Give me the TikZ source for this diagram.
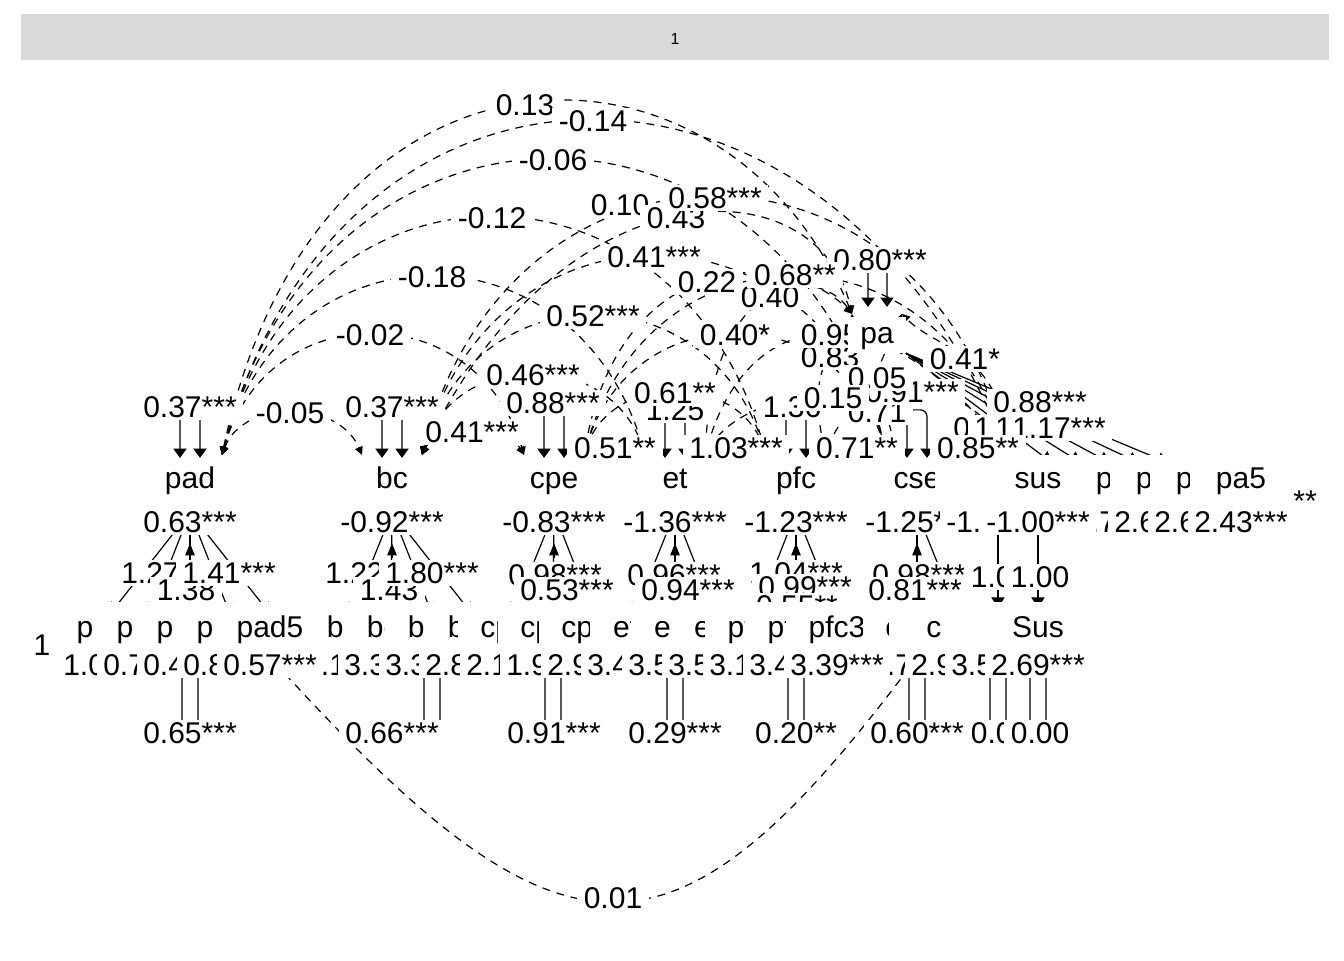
\documentclass[tikz,border=0pt]{standalone}
\usepackage{fontspec}
\setmainfont{Liberation Sans}
\usetikzlibrary{arrows.meta,calc}
\pgfdeclarelayer{edges}
\pgfdeclarelayer{labels}
\pgfsetlayers{edges,labels,main}
\definecolor{stripgray}{RGB}{217,217,217}
\newcommand{\labfont}{\fontsize{22.5}{26}\selectfont}

\begin{document}
\begin{tikzpicture}[x=0.75pt,y=-0.75pt,
    lbl/.style={fill=white,inner xsep=5pt,inner ysep=1.5pt,text height=16.2pt,text depth=0pt,font=\labfont},
    latent/.style={fill=white,inner xsep=9pt,inner ysep=2.5pt,text height=16.9pt,text depth=5pt,anchor=base,font=\labfont},
    indic/.style={latent,inner xsep=19.5pt,text height=22.2pt},
    manifest/.style={fill=white,inner xsep=17pt,inner ysep=2.5pt,text height=23.6pt,text depth=5pt,anchor=base,font=\labfont},
    cov/.style={line width=0.9pt,dash pattern=on 6pt off 5pt,{Triangle[length=6pt,width=6pt]}-{Triangle[length=6pt,width=6pt]}},
    resid/.style={line width=0.9pt,rounded corners=5pt,{Triangle[length=7pt,width=10pt]}-{Triangle[length=7pt,width=10pt]}},
    load/.style={line width=0.9pt,-{Triangle[length=8pt,width=10pt]}},
    mean/.style={line width=0.9pt,-{Triangle[length=9pt,width=7pt]}}]

\useasboundingbox (0,0) rectangle (1344,960);
\fill[stripgray] (21,14) rectangle (1329,60);
\node[font=\fontsize{12}{14}\selectfont] (strip) at (675,39) {1};

% indicators of pa sit in the latent row
\foreach \i/\x in {1/1081,2/1121,3/1161,4/1201,5/1241}
  \node[indic] (pa\i) at (\x,488) {pa\i};

% latents
\node[latent] (pad) at (190,488) {pad};
\node[latent] (bc) at (392,488) {bc};
\node[latent] (cpe) at (554,488) {cpe};
\node[latent] (et) at (675,488) {et};
\node[latent] (pfc) at (796,488) {pfc};
\node[latent] (cse) at (917,488) {cse};
\node[latent,minimum width=94pt] (sus0) at (998,488) {};
\node[latent] (sus) at (1038,488) {sus};
\node[latent] (pa) at (877,343) {pa};

% manifests
\foreach \i/\x in {1/110,2/150,3/190,4/230,5/270}
  \node[manifest] (pad\i) at (\x,637) {pad\i};
\foreach \i/\x in {1/351,2/391,3/432,4/472}
  \node[manifest] (bc\i) at (\x,637) {bc\i};
\foreach \i/\x in {1/513,2/553,3/594}
  \node[manifest] (cpe\i) at (\x,637) {cpe\i};
\foreach \i/\x in {1/634,2/675,3/715}
  \node[manifest] (et\i) at (\x,637) {et\i};
\foreach \i/\x in {1/756,2/796,3/837}
  \node[manifest] (pfc\i) at (\x,637) {pfc\i};
\node[manifest] (cse1) at (917,637) {cse1};
\node[manifest,inner xsep=28pt] (cse2) at (958,637) {cse2};
\node[manifest,minimum width=86pt] (sus2) at (998,637) {};
\node[manifest] (Sus) at (1038,637) {Sus};

\node[font=\labfont] (one) at (42,645) {1};
\node[font=\labfont,anchor=base] (stars) at (1305,511) {**};

\begin{pgfonlayer}{edges}
% covariances between latents
\draw[cov] ($(pad.north)+(32,-7)$) .. controls (243,399) and (338,399) .. ($(bc.north)+(-30,-7)$);
\draw[cov] ($(pad.north)+(32,-7)$) .. controls (267,295) and (476,295) .. ($(cpe.north)+(-30,-7)$);
\draw[cov] ($(pad.north)+(32,-7)$) .. controls (285,218) and (578,218) .. ($(et.north)+(-30,-7)$);
\draw[cov] ($(pad.north)+(32,-7)$) .. controls (304,139) and (681,139) .. ($(pfc.north)+(-30,-7)$);
\draw[cov] ($(pad.north)+(32,-7)$) .. controls (322,62) and (783,62) .. ($(cse.north)+(-30,-7)$);
\draw[cov] ($(pad.north)+(32,-7)$) .. controls (340,10) and (831,10) .. ($(sus.north)+(-30,-7)$);
\draw[cov] ($(pad.north)+(32,-7)$) .. controls (317,11) and (725,11) .. ($(pa.north)+(-25,-3)$);
\draw[cov] ($(bc.north)+(30,-7)$) .. controls (437,424) and (506,424) .. ($(cpe.north)+(-30,-7)$);
\draw[cov] ($(bc.north)+(30,-7)$) .. controls (455,348) and (611,348) .. ($(et.north)+(-30,-7)$);
\draw[cov] ($(bc.north)+(30,-7)$) .. controls (474,270) and (711,270) .. ($(pfc.north)+(-30,-7)$);
\draw[cov] ($(bc.north)+(30,-7)$) .. controls (492,191) and (816,191) .. ($(cse.north)+(-30,-7)$);
\draw[cov] ($(bc.north)+(30,-7)$) .. controls (510,112) and (920,112) .. ($(sus.north)+(-30,-7)$);
\draw[cov] ($(bc.north)+(30,-7)$) .. controls (560,162) and (818,162) .. ($(pa.north)+(-25,-3)$);
\draw[cov] ($(cpe.north)+(30,-7)$) .. controls (593,446) and (635,446) .. ($(et.north)+(-30,-7)$);
\draw[cov] ($(cpe.north)+(30,-7)$) .. controls (611,372) and (739,372) .. ($(pfc.north)+(-30,-7)$);
\draw[cov] ($(cpe.north)+(30,-7)$) .. controls (629,295) and (841,295) .. ($(cse.north)+(-30,-7)$);
\draw[cov] ($(cpe.north)+(30,-7)$) .. controls (648,218) and (941,218) .. ($(sus.north)+(-30,-7)$);
\draw[cov] ($(cpe.north)+(30,-7)$) .. controls (620,247) and (787,247) .. ($(pa.north)+(-25,-3)$);
\draw[cov] ($(et.north)+(30,-7)$) .. controls (714,446) and (758,446) .. ($(pfc.north)+(-30,-7)$);
\draw[cov] ($(et.north)+(30,-7)$) .. controls (750,379) and (911,379) .. ($(cse.north)+(-30,-7)$);
\draw[cov] ($(et.north)+(30,-7)$) .. controls (750,295) and (892,295) .. ($(sus.north)+(-30,-7)$);
\draw[cov] ($(et.north)+(30,-7)$) .. controls (715,267) and (819,267) .. ($(pa.north)+(-25,-3)$);
\draw[cov] ($(pfc.north)+(30,-7)$) .. controls (835,446) and (879,446) .. ($(cse.north)+(-30,-7)$);
\draw[cov] ($(pfc.north)+(30,-7)$) .. controls (853,371) and (968,371) .. ($(sus.north)+(-30,-7)$);
\draw[cov] ($(pfc.north)+(30,-7)$) .. controls (800,345) and (854,345) .. ($(pa.north)+(-25,-3)$);
\draw[cov] ($(cse.north)+(30,-7)$) .. controls (956,446) and (1000,446) .. ($(sus.north)+(-30,-7)$);
\draw[cov] ($(cse.north)+(-30,-7)$) .. controls (865,375) and (877,375) .. ($(pa.north)+(25,-3)$);
\draw[cov] ($(sus.north)+(-30,-7)$) .. controls (1000,350) and (937,350) .. ($(pa.north)+(25,-3)$);
\draw[cov] ($(pad5.south)+(0,10)$) .. controls (565,982) and (674,982) .. ($(cse1.south)+(0,10)$);

% residual variances
\foreach \n in {pad,bc,cpe,et,pfc,cse}
  \draw[resid] ($(\n.north)+(-10,-4)$) -- ($(\n.north)+(-10,-52)$) -- ($(\n.north)+(10,-52)$) -- ($(\n.north)+(10,-4)$);
\draw[resid] ($(pa.north)+(-9,-10)$) -- ($(pa.north)+(-9,-62)$) -- ($(pa.north)+(10,-62)$) -- ($(pa.north)+(10,-10)$);
\foreach \m in {pad3,bc3,cpe2,et2,pfc2,cse1,sus2,Sus}
  \draw[resid] ($(\m.south)+(-8,11)$) -- ($(\m.south)+(-8,88)$) -- ($(\m.south)+(8,88)$) -- ($(\m.south)+(8,11)$);

% loadings
\foreach \i in {1,...,5} \draw[load] ($(pad.south)+(0,14)$) -- ($(pad\i.north)+(0,12)$);
\foreach \i in {1,...,4} \draw[load] ($(bc.south)+(0,14)$) -- ($(bc\i.north)+(0,12)$);
\foreach \i in {1,...,3} \draw[load] ($(cpe.south)+(0,14)$) -- ($(cpe\i.north)+(0,12)$);
\foreach \i in {1,...,3} \draw[load] ($(et.south)+(0,14)$) -- ($(et\i.north)+(0,12)$);
\foreach \i in {1,...,3} \draw[load] ($(pfc.south)+(0,14)$) -- ($(pfc\i.north)+(0,12)$);
\foreach \i in {1,2} \draw[load] ($(cse.south)+(0,14)$) -- ($(cse\i.north)+(0,12)$);
\draw[load] ($(sus2 |- sus0.south)+(0,14)$) -- ($(sus2.north)+(0,6)$);
\draw[load] ($(sus.south)+(0,14)$) -- ($(Sus.north)+(0,6)$);
\foreach \i in {1,...,5} \draw[load] (pa.south east) -- ($(pa\i.north)+({-18-11*\i},8)$);

% means
\foreach \n in {pad,bc,cpe,et,pfc,cse}
  \draw[mean] ($(\n.south)+(0,60)$) -- ($(\n.south)+(0,45)$);
\end{pgfonlayer}

\begin{pgfonlayer}{labels}
% covariance and variance labels
\foreach \x/\y/\txt [count=\i] in {525/105/0.13, 593/121/-0.14, 553/160/-0.06, 492/218/-0.12,
    620/205/0.10, 676/218/0.43, 715/198/0.58***, 432/277/-0.18, 707/282/0.22, 654/257/0.41***,
    880/260/0.80***, 770/297/0.40, 795/275/0.68**, 370/335/-0.02, 593/316/0.52***, 735/335/0.40*,
    830/357/0.83, 830/335/0.95, 965/359/0.41*, 877/412/0.71, 912/392/0.91***, 877/378/0.05,
    553/403/0.88***, 533/375/0.46***, 675/410/1.25, 675/393/0.61**, 792/407/1.36, 833/398/0.15,
    190/407/0.37***, 290/413/-0.05, 392/407/0.37***, 472/432/0.41***, 1040/402/0.88***,
    1000/428/0.96***, 1021/428/1.05***, 1041/428/1.11***, 1059/428/1.17***,
    615/448/0.51**, 736/448/1.03***, 857/448/0.71**, 978/448/0.85**}
  \node[lbl] (cv\i) at (\x,\y) {\txt};

% means and intercepts of pa items
\foreach \x/\txt [count=\i] in {1081/2.58***, 1121/2.71***, 1161/2.64***, 1201/2.66***, 1241/2.43***,
    190/0.63***, 392/-0.92***, 554/-0.83***, 675/-1.36***, 796/-1.23***, 917/-1.25***,
    998/-1.12***, 1038/-1.00***}
  \node[lbl] (mn\i) at (\x,522) {\txt};

% loadings
\foreach \x/\y/\txt [count=\i] in {168/573/1.27***, 186/590/1.38, 229/573/1.41***,
    372/573/1.22***, 389/590/1.43, 432/573/1.80***,
    555/575/0.98***, 567/590/0.53***, 674/575/0.96***, 688/590/0.94***,
    796/573/1.04***, 805/587/0.99***, 797/606/0.55**,
    919/575/0.98***, 915/590/0.81***, 1000/577/1.02, 1040/577/1.00}
  \node[lbl] (ld\i) at (\x,\y) {\txt};

% intercepts
\foreach \x/\txt [count=\i] in {110/1.04***, 150/0.75***, 190/0.46***, 230/0.83***, 351/3.12***,
    270/0.57***, 391/3.31***, 432/3.36***, 472/2.84***, 513/2.17***, 553/1.95***, 594/2.93***,
    634/3.45***, 675/3.52***, 715/3.55***, 756/3.18***, 796/3.42***, 917/2.71***, 837/3.39***,
    958/2.94***, 998/3.51***, 1038/2.69***}
  \node[lbl] (ic\i) at (\x,665) {\txt};

% residual variances of manifests
\foreach \x/\txt [count=\i] in {190/0.65***, 392/0.66***, 554/0.91***, 675/0.29***, 796/0.20**,
    917/0.60***, 1000/0.02, 1040/0.00}
  \node[lbl] (rv\i) at (\x,733) {\txt};
\node[lbl] (rcov) at (613,898) {0.01};
\end{pgfonlayer}
\end{tikzpicture}
\end{document}
